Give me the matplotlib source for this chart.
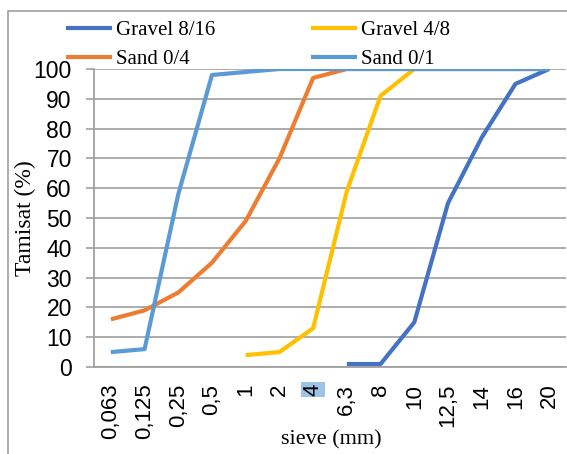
import matplotlib
matplotlib.use("Agg")
import matplotlib.pyplot as plt
import numpy as np
from matplotlib.patches import Rectangle

# sieve sizes (categorical x axis)
sieves = ["0,063", "0,125", "0,25", "0,5", "1", "2", "4",
          "6,3", "8", "10", "12,5", "14", "16", "20"]

nan = np.nan
gravel_8_16 = [nan, nan, nan, nan, nan, nan, nan, 1, 1, 15, 55, 77, 95, 100]
gravel_4_8 = [nan, nan, nan, nan, 4, 5, 13, 59, 91, 100, 100, 100, 100, 100]
sand_0_4 = [16, 19, 25, 35, 49, 70, 97, 100, 100, 100, 100, 100, 100, 100]
sand_0_1 = [5, 6, 58, 98, 99, 100, 100, 100, 100, 100, 100, 100, 100, 100]

series = [
    ("Gravel 8/16", gravel_8_16, "#4472C4"),
    ("Gravel 4/8", gravel_4_8, "#FFC000"),
    ("Sand 0/4", sand_0_4, "#ED7D31"),
    ("Sand 0/1", sand_0_1, "#5B9BD5"),
]

serif = "Liberation Serif"
sans = "Liberation Sans"
W, H = 567, 454
fig = plt.figure(figsize=(W / 100, H / 100), dpi=100)
ax = fig.add_axes([94 / W, (H - 367) / H, 472 / W, 298 / H])

x = np.arange(len(sieves))
lines = {}
for name, vals, color in series:
    lines[name], = ax.plot(x, vals, color=color, lw=3, label=name,
                           solid_capstyle="butt")

ax.set_xlim(-0.5, len(sieves) - 0.5)
ax.set_ylim(0, 100)
ax.set_yticks(range(0, 101, 10))
ax.set_yticklabels([str(v) for v in range(0, 101, 10)],
                   fontfamily=sans, fontsize=16.5)
ax.set_xticks(x)
ax.set_xticklabels(sieves, rotation=90, fontfamily=sans, fontsize=16)
ax.tick_params(axis="x", length=0, pad=12)
ax.tick_params(axis="y", length=6, color="#A0A0A0", width=1.2, pad=10)
ax.xaxis.get_ticklabels()[6].set_bbox(
    dict(facecolor="#9DC3E6", edgecolor="none", pad=1))

ax.grid(axis="y", color="#A6A6A6", lw=1.3)
ax.set_axisbelow(True)
for side in ("top", "right"):
    ax.spines[side].set_visible(False)
for side in ("left", "bottom"):
    ax.spines[side].set_color("#A0A0A0")
    ax.spines[side].set_linewidth(1.3)

ax.set_xlabel("sieve (mm)", fontfamily=serif, fontsize=16, va="center")
ax.xaxis.set_label_coords(0.502, -0.245)
ax.set_ylabel("Tamisat (%)", fontfamily=serif, fontsize=17, va="center")
ax.yaxis.set_label_coords(-0.146, 0.5)

# legend filled column-wise, so order handles to read row by row
order = ["Gravel 8/16", "Sand 0/4", "Gravel 4/8", "Sand 0/1"]
fig.legend([lines[n] for n in order], order, loc="upper left",
           bbox_to_anchor=(58 / W, 1 - 12 / H), ncol=2,
           frameon=False, prop={"family": serif, "size": 15},
           handlelength=2.2, handletextpad=0.2, columnspacing=4.6,
           labelspacing=0.45, borderaxespad=0)

# outer chart frame
fig.patches.append(Rectangle((8 / W, -0.01), 1.0, 1 - 11 / H + 0.01,
                             transform=fig.transFigure, fill=False,
                             edgecolor="#A0A0A0", lw=1.2))

fig.savefig("out.png", dpi=100)
